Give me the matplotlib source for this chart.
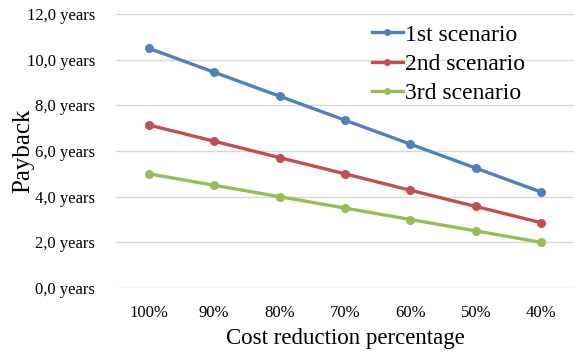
import numpy as np
import matplotlib
matplotlib.use("Agg")
import matplotlib.pyplot as plt

# Data
categories = ["100%", "90%", "80%", "70%", "60%", "50%", "40%"]
scenario_1 = [10.5, 9.45, 8.4, 7.35, 6.3, 5.25, 4.2]
scenario_2 = [7.14, 6.43, 5.71, 5.0, 4.28, 3.57, 2.86]
scenario_3 = [5.0, 4.5, 4.0, 3.5, 3.0, 2.5, 2.0]
series_names = ["1st scenario", "2nd scenario", "3rd scenario"]
yticks = [0, 2, 4, 6, 8, 10, 12]

plt.rcParams['font.family'] = ['Liberation Serif', 'DejaVu Serif']

fig = plt.figure(figsize=(5.74, 3.54), dpi=100)
ax = fig.add_axes([116 / 574, 1 - 288 / 354, 458 / 574, 274 / 354])

colors = ["#4F81BD", "#C0504D", "#9BBB59"]
x = np.arange(len(categories))
for vals, name, c in zip([scenario_1, scenario_2, scenario_3], series_names, colors):
    ax.plot(x, vals, color=c, lw=2.4, marker="o", ms=5.5, label=name)

ax.set_xlim(-0.5, len(categories) - 0.5)
ax.set_ylim(0, 12)
ax.set_yticks(yticks)
ax.set_yticklabels([f"{v:.1f}".replace(".", ",") + " years" for v in yticks], fontsize=12)
ax.set_xticks(x)
ax.set_xticklabels(categories, fontsize=12)
ax.grid(axis="y", color="#D9D9D9", lw=1)
ax.set_axisbelow(True)
for s in ax.spines.values():
    s.set_visible(False)
ax.tick_params(axis="x", length=0, pad=12)
ax.tick_params(axis="y", length=0, pad=15)

ax.set_xlabel("Cost reduction percentage", fontsize=16.5, labelpad=5)
ax.set_ylabel("Payback", fontsize=18)
ax.yaxis.set_label_coords(-0.179, 0.5)

# legend placed in figure pixels
leg = fig.legend(loc="upper left", bbox_to_anchor=(372 / 574, 1 - 24 / 354), frameon=False,
                 fontsize=17, handlelength=1.3, handletextpad=0.1, labelspacing=0.33,
                 borderpad=0, borderaxespad=0)
for line in leg.get_lines():
    line.set_markersize(4)

fig.savefig("out.png", dpi=100)
